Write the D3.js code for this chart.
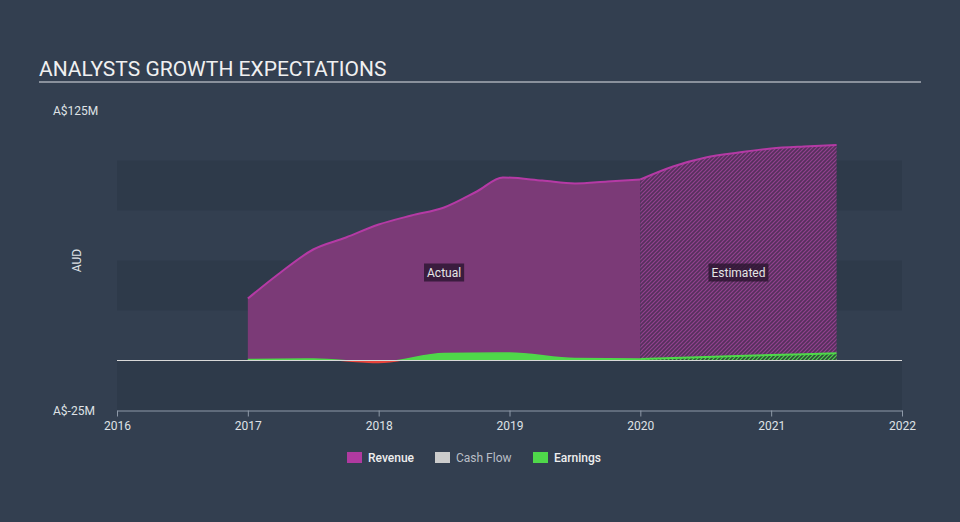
<!DOCTYPE html>
<html>
<head>
<meta charset="utf-8">
<script src="https://cdn.jsdelivr.net/npm/d3@7"></script>
<style>
  html, body { margin: 0; padding: 0; background: #333f50; }
  svg { display: block; font-family: Roboto, "Noto Sans", sans-serif; }
</style>
</head>
<body>
<svg id="chart" width="960" height="522"></svg>
<script>
// ---- data ----
const yearTicks = [2016, 2017, 2018, 2019, 2020, 2021, 2022];
const yTickLabels = ["A$125M", "A$-25M"];
const yTickValues = [125, -25];
const bandEdges = [-25, 0, 25, 50, 75, 100, 125];

const revenueActualX = [2017.0, 2017.25, 2017.5, 2017.75, 2018.0, 2018.25, 2018.5, 2018.75, 2018.95, 2019.25, 2019.5, 2019.75, 2020.0];
const revenueActualY = [31, 44, 55.5, 61.5, 68, 72.5, 76.5, 84.5, 91.5, 90, 88.5, 89.5, 90.5];
const revenueEstX = [2020.0, 2020.25, 2020.5, 2020.75, 2021.0, 2021.25, 2021.5];
const revenueEstY = [90.5, 97, 101.5, 104, 106, 107, 107.7];

const earningsActualX = [2017.0, 2017.5, 2018.0, 2018.5, 2019.0, 2019.5, 2020.0];
const earningsActualY = [0.5, 0.8, -1.0, 3.5, 3.8, 1.0, 0.8];
const earningsEstX = [2020.0, 2020.5, 2021.0, 2021.5];
const earningsEstY = [0.8, 1.8, 2.7, 3.6];

const legendItems = ["Revenue", "Cash Flow", "Earnings"];
const legendColors = ["#b03aa0", "#cccccc", "#4fd84a"];

// ---- layout ----
const svg = d3.select("#chart");
const x = d3.scaleLinear().domain([2016, 2022]).range([117, 902]);
const y = d3.scaleLinear().domain([-25, 125]).range([410.5, 110.5]);

// title
svg.append("text").attr("x", 39).attr("y", 76).attr("fill", "#f0f0f0")
  .attr("font-size", 21).text("ANALYSTS GROWTH EXPECTATIONS");
svg.append("line").attr("x1", 39).attr("x2", 921).attr("y1", 82).attr("y2", 82)
  .attr("stroke", "#a9aeb6").attr("stroke-width", 1.5);

// bands
const defs = svg.append("defs");
for (let i = 0; i < bandEdges.length - 1; i++) {
  if (i % 2 === 0) {
    svg.append("rect").attr("x", x(2016)).attr("width", x(2022) - x(2016))
      .attr("y", y(bandEdges[i + 1])).attr("height", y(bandEdges[i]) - y(bandEdges[i + 1]))
      .attr("fill", "#2e3a4a");
  }
}

// hatch patterns
function hatch(id, bg, stroke) {
  const p = defs.append("pattern").attr("id", id).attr("patternUnits", "userSpaceOnUse")
    .attr("width", 4).attr("height", 4);
  p.append("rect").attr("width", 4).attr("height", 4).attr("fill", bg);
  p.append("path").attr("d", "M-1,1 l2,-2 M0,4 l4,-4 M3,5 l2,-2")
    .attr("stroke", stroke).attr("stroke-width", 1.2);
}
hatch("hatchRev", "#55305c", "#93408f");
hatch("hatchEarn", "#2e4a3a", "#4fd84a");

const curve = d3.curveMonotoneX;
const zip = (xs, ys) => xs.map((v, i) => [v, ys[i]]);

// revenue
const revA = zip(revenueActualX, revenueActualY);
const revE = zip(revenueEstX, revenueEstY);
const area = d3.area().x(d => x(d[0])).y0(y(0)).y1(d => y(d[1])).curve(curve);
const line = d3.line().x(d => x(d[0])).y(d => y(d[1])).curve(curve);

svg.append("path").attr("d", area(revA)).attr("fill", "#7b3a77");
svg.append("path").attr("d", area(revE)).attr("fill", "url(#hatchRev)");
svg.append("path").attr("d", line(revA)).attr("fill", "none").attr("stroke", "#b53aa5").attr("stroke-width", 2);
svg.append("path").attr("d", line(revE)).attr("fill", "none").attr("stroke", "#b53aa5").attr("stroke-width", 2);

// earnings
const earnA = zip(earningsActualX, earningsActualY);
const earnE = zip(earningsEstX, earningsEstY);
defs.append("clipPath").attr("id", "above").append("rect")
  .attr("x", 0).attr("y", 0).attr("width", 960).attr("height", y(0));
defs.append("clipPath").attr("id", "below").append("rect")
  .attr("x", 0).attr("y", y(0)).attr("width", 960).attr("height", 200);

svg.append("path").attr("d", area(earnA)).attr("fill", "#4fd84a").attr("clip-path", "url(#above)");
svg.append("path").attr("d", area(earnA)).attr("fill", "#e8453c").attr("clip-path", "url(#below)");
svg.append("path").attr("d", area(earnE)).attr("fill", "url(#hatchEarn)");
svg.append("path").attr("d", line(earnA)).attr("fill", "none").attr("stroke", "#4fd84a")
  .attr("stroke-width", 1.5).attr("clip-path", "url(#above)");
svg.append("path").attr("d", line(earnA)).attr("fill", "none").attr("stroke", "#e8453c")
  .attr("stroke-width", 1.5).attr("clip-path", "url(#below)");
svg.append("path").attr("d", line(earnE)).attr("fill", "none").attr("stroke", "#4fd84a").attr("stroke-width", 2);

// zero line
svg.append("line").attr("x1", x(2016)).attr("x2", x(2022)).attr("y1", y(0)).attr("y2", y(0))
  .attr("stroke", "#d8d8d8").attr("stroke-width", 1.2);

// x axis
const xAxis = d3.axisBottom(x).tickValues(yearTicks).tickFormat(d3.format("d")).tickSize(6).tickSizeOuter(0);
const gx = svg.append("g").attr("transform", `translate(0,${y(-25)})`).call(xAxis);
gx.select(".domain").attr("stroke", "#8e99a8");
gx.selectAll(".tick line").attr("stroke", "#8e99a8");
gx.selectAll(".tick text").attr("fill", "#dfe2e6").attr("font-size", 12).attr("dy", "0.9em")
  .attr("font-family", "Roboto, sans-serif");

// y labels
yTickValues.forEach((v, i) => {
  svg.append("text").attr("x", 53).attr("y", y(v) + 4).attr("fill", "#dfe2e6")
    .attr("font-size", 12).text(yTickLabels[i]);
});
svg.append("text").attr("transform", `translate(81,${y(50)}) rotate(-90)`)
  .attr("text-anchor", "middle").attr("fill", "#dfe2e6").attr("font-size", 12).text("AUD");

// actual / estimated labels
function tag(cx, cy, txt) {
  const g = svg.append("g");
  const t = g.append("text").attr("x", cx).attr("y", cy + 4).attr("text-anchor", "middle")
    .attr("fill", "#e6e6e6").attr("font-size", 12).text(txt);
  const bb = t.node().getBBox();
  g.insert("rect", "text").attr("x", bb.x - 3).attr("y", cy - 9).attr("width", bb.width + 6)
    .attr("height", 18).attr("fill", "#2a1530").attr("opacity", 0.8);
}
tag(x(2018.5), y(44), "Actual");
tag(x(2020.75), y(44), "Estimated");

// legend
const legX = [347, 435, 533];
legendItems.forEach((name, i) => {
  svg.append("rect").attr("x", legX[i]).attr("y", 452).attr("width", 15).attr("height", 11)
    .attr("fill", legendColors[i]);
  svg.append("text").attr("x", legX[i] + 21).attr("y", 462)
    .attr("fill", i === 1 ? "#b9bec6" : "#eeeeee").attr("font-size", 12)
    .attr("font-weight", i === 1 ? 400 : 500).text(name);
});
</script>
</body>
</html>
